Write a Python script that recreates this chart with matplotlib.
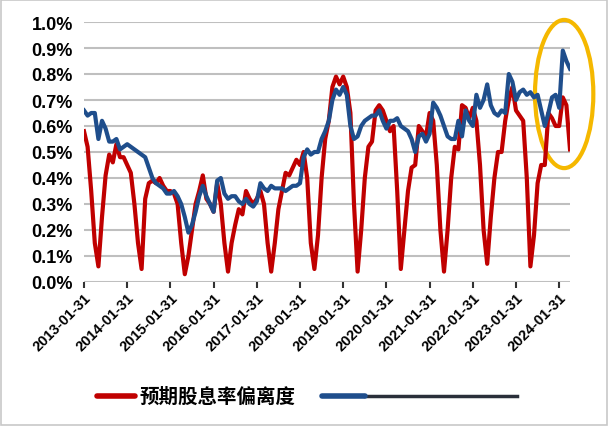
import matplotlib
matplotlib.use("Agg")
import matplotlib.pyplot as plt
from matplotlib.patches import Ellipse, Rectangle

plt.rcParams['font.family'] = ['Noto Sans CJK SC', 'DejaVu Sans']

red = [.58,.52,.35,.15,.06,.25,.41,.49,.46,.53,.48,.48,
       .45,.42,.30,.15,.05,.32,.38,.39,.38,.40,.37,.35,
       .35,.34,.30,.15,.03,.10,.20,.30,.35,.41,.32,.30,
       .27,.38,.30,.15,.04,.15,.22,.28,.26,.35,.32,.30,
       .32,.35,.30,.15,.04,.15,.28,.35,.42,.41,.44,.47,
       .45,.50,.40,.15,.05,.18,.40,.55,.62,.75,.79,.76,
       .79,.75,.65,.30,.04,.20,.40,.52,.54,.66,.68,.66,
       .62,.58,.60,.35,.05,.20,.35,.44,.45,.60,.58,.56,
       .65,.62,.45,.20,.04,.20,.40,.52,.51,.68,.67,.63,
       .67,.62,.45,.20,.07,.25,.40,.50,.50,.62,.70,.75,
       .66,.64,.62,.40,.06,.18,.38,.45,.45,.65,.63,.60,
       .60,.71,.68,.51]
blue = [.66,.64,.65,.65,.55,.62,.59,.54,.54,.55,.51,.52,
        .53,.52,.51,.50,.49,.48,.44,.40,.38,.37,.36,.34,
        .34,.35,.33,.30,.25,.19,.22,.27,.33,.37,.33,.30,
        .27,.39,.40,.34,.32,.33,.33,.31,.30,.32,.30,.29,
        .31,.38,.36,.35,.37,.36,.36,.36,.35,.36,.37,.37,
        .38,.48,.51,.49,.50,.50,.55,.58,.62,.70,.74,.72,
        .75,.72,.60,.55,.56,.60,.62,.63,.64,.64,.66,.62,
        .59,.62,.62,.63,.60,.59,.58,.55,.50,.56,.57,.54,
        .57,.69,.67,.64,.60,.56,.55,.55,.62,.56,.66,.62,
        .60,.72,.67,.70,.76,.68,.65,.64,.66,.65,.80,.77,
        .70,.73,.74,.72,.73,.71,.72,.66,.60,.65,.71,.72,
        .67,.89,.85,.82]
tick_labels = [f"{y}-01-31" for y in range(2013, 2025)]
legend_label = "预期股息率偏离度"

W, H = 608, 427
fig = plt.figure(figsize=(6.08, 4.27), dpi=100)
fig.patches.append(Rectangle((0.002, 0.002), 0.996, 0.996, transform=fig.transFigure,
                             fill=False, edgecolor='#c8c8c8', lw=1.2))
ax = fig.add_axes([84/W, 1 - 283/H, 486/W, 260/H])
x = list(range(len(red)))
ax.plot(x, red, color='#c00000', lw=3)
ax.plot(x, blue, color='#1f4e8c', lw=3)
ax.set_ylim(0, 1.0)
ax.set_xlim(0, len(red) - 1)
ax.set_yticks([i / 10 for i in range(11)])
ax.set_yticklabels([f"{i/10:.1f}%" for i in range(11)], fontsize=13, fontweight='bold',
                   family=['Liberation Sans', 'DejaVu Sans'])
ax.set_xticks(list(range(0, len(red), 12)))
ax.set_xticklabels(tick_labels, rotation=45, ha='right', rotation_mode='anchor',
                   fontsize=10.5, fontweight='bold', family=['Liberation Sans', 'DejaVu Sans'])
ax.grid(axis='y', color='#bfbfbf', lw=1.5)
ax.set_axisbelow(True)
for s in ax.spines.values():
    s.set_visible(False)
ax.tick_params(axis='y', length=0, pad=8)
ax.tick_params(axis='x', length=4, width=1.5, color='#333333', pad=2)

ax.add_patch(Ellipse((0.988, 0.723), 0.12, 0.57, transform=ax.transAxes, fill=False,
                     edgecolor='#f5b800', lw=3, clip_on=False))

ly = 1 - 397/H
fig.lines.append(plt.Line2D([97/W, 135/W], [ly, ly], transform=fig.transFigure,
                            color='#c00000', lw=4, solid_capstyle='round'))
fig.text(140/W, ly, legend_label, fontsize=14, fontweight='bold', va='center', ha='left')
fig.lines.append(plt.Line2D([365/W, 517/W], [ly, ly], transform=fig.transFigure,
                            color='#2a2f3a', lw=2.5))
fig.lines.append(plt.Line2D([322/W, 365/W], [ly, ly], transform=fig.transFigure,
                            color='#1f4e8c', lw=4, solid_capstyle='round'))
fig.savefig("out.png", dpi=100, facecolor='white')
